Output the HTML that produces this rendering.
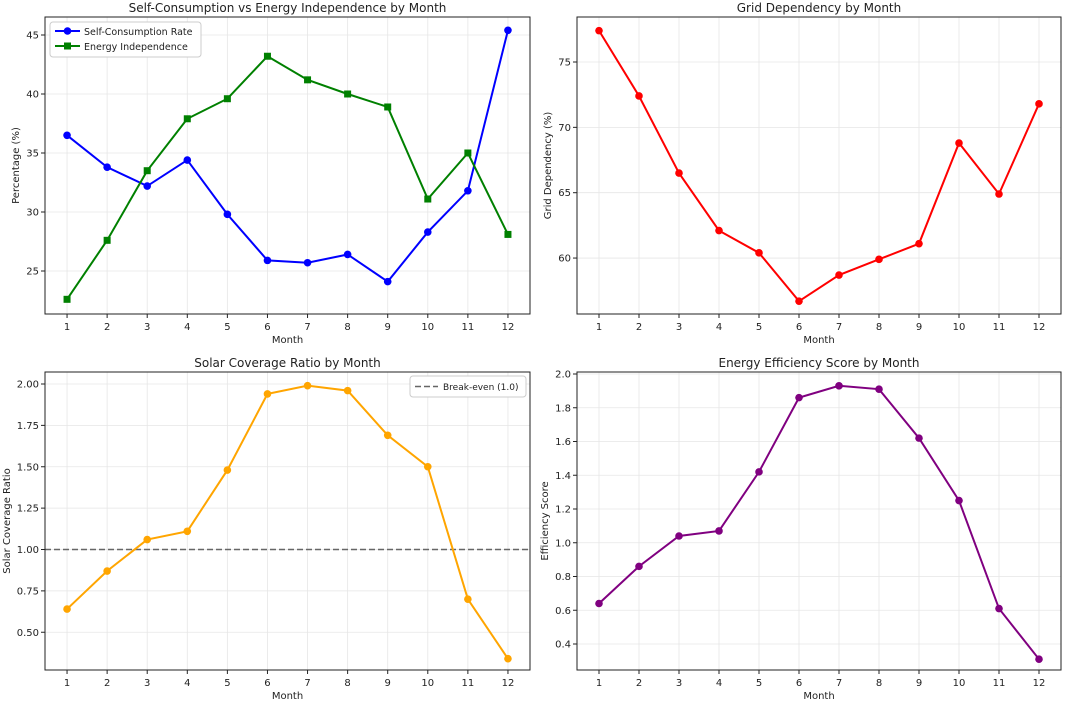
<!DOCTYPE html>
<html><head><meta charset="utf-8"><style>
body{margin:0;background:#fff;font-family:"Liberation Sans","DejaVu Sans",sans-serif}
svg text{font-family:"DejaVu Sans","Liberation Sans",sans-serif;fill:#222}
</style></head><body>
<svg id="fig" width="1065" height="701"></svg>
<script>
const months=[1,2,3,4,5,6,7,8,9,10,11,12];
const selfConsumption=[36.5,33.8,32.2,34.4,29.8,25.9,25.7,26.4,24.1,28.3,31.8,45.4];
const energyIndependence=[22.6,27.6,33.5,37.9,39.6,43.2,41.2,40.0,38.9,31.1,35.0,28.1];
const gridDependency=[77.4,72.4,66.5,62.1,60.4,56.7,58.7,59.9,61.1,68.8,64.9,71.8];
const solarCoverage=[0.64,0.87,1.06,1.11,1.48,1.94,1.99,1.96,1.69,1.50,0.70,0.34];
const efficiency=[0.64,0.86,1.04,1.07,1.42,1.86,1.93,1.91,1.62,1.25,0.61,0.31];
const ticks1=[25,30,35,40,45];
const ticks2=[60,65,70,75];
const ticks3=[0.5,0.75,1.0,1.25,1.5,1.75,2.0];
const ticks4=[0.4,0.6,0.8,1.0,1.2,1.4,1.6,1.8,2.0];
const NS="http://www.w3.org/2000/svg";
const svg=document.getElementById('fig');
function mk(tag,attrs,parent,text){const e=document.createElementNS(NS,tag);for(const k in attrs)e.setAttribute(k,attrs[k]);if(text!==undefined)e.textContent=text;(parent||svg).appendChild(e);return e;}
function panel(o){
  const g=mk('g',{});
  
  
  const L=o.l,R=o.r,T=o.t,B=o.b;
  const x=m=>L+(m-1+0.55)*((R-L)/12.1);
  const y=v=>o.y0+(v-o.v0)*o.k;
  months.forEach(m=>{mk('line',{x1:x(m),x2:x(m),y1:T,y2:B,stroke:'#e6e6e6','stroke-width':0.8},g);});
  o.ticks.forEach(v=>{mk('line',{x1:L,x2:R,y1:y(v),y2:y(v),stroke:'#e6e6e6','stroke-width':0.8},g);});
  if(o.hline!==undefined){const h=mk('line',{x1:L,x2:R,y1:y(o.hline),y2:y(o.hline),stroke:'#666','stroke-width':1.5,'stroke-dasharray':'6,3'},g);}
  o.series.forEach(s=>{
    const pts=s.data.map((v,i)=>x(months[i])+','+y(v)).join(' ');
    const pl=mk('polyline',{points:pts,fill:'none',stroke:s.color,'stroke-width':2},g);
    
    
    s.data.forEach((v,i)=>{
      let mkr;
      if(s.square)mkr=mk('rect',{x:x(months[i])-3.5,y:y(v)-3.5,width:7,height:7,fill:s.color},g);
      else mkr=mk('circle',{cx:x(months[i]),cy:y(v),r:3.8,fill:s.color},g);
      
      
    });
  });
  mk('rect',{x:L,y:T,width:R-L,height:B-T,fill:'none',stroke:'#222','stroke-width':1},g);
  months.forEach(m=>{mk('line',{x1:x(m),x2:x(m),y1:B,y2:B+4,stroke:'#222'},g);mk('text',{x:x(m),y:B+16,'text-anchor':'middle','font-size':10},g,m);});
  o.ticks.forEach(v=>{mk('line',{x1:L-4,x2:L,y1:y(v),y2:y(v),stroke:'#222'},g);mk('text',{x:L-6,y:y(v)+3.5,'text-anchor':'end','font-size':10},g,o.fmt(v));});
  const t=mk('text',{x:(L+R)/2,y:T-5,'text-anchor':'middle','font-size':12},g,o.title);
  
  const xl=mk('text',{x:(L+R)/2,y:B+29,'text-anchor':'middle','font-size':10},g,'Month');
  
  const yl=mk('text',{x:0,y:0,'text-anchor':'middle','font-size':10,transform:`translate(${o.ylx},${(T+B)/2}) rotate(-90)`},g,o.ylabel);
  
  return {g,L,R,T,B};
}
panel({name:'self-consumption-panel',l:45,r:530,t:17,b:314,y0:35,v0:45,k:-11.8,ticks:ticks1,fmt:v=>v,title:'Self-Consumption vs Energy Independence by Month',ylabel:'Percentage (%)',ylx:19,
 series:[{name:'self-consumption',data:selfConsumption,color:'#0000ff'},{name:'energy-independence',data:energyIndependence,color:'#008000',square:true}]});
panel({name:'grid-dependency-panel',l:577,r:1061,t:17,b:314,y0:62,v0:75,k:-13.07,ticks:ticks2,fmt:v=>v,title:'Grid Dependency by Month',ylabel:'Grid Dependency (%)',ylx:551,
 series:[{name:'grid-dependency',data:gridDependency,color:'#ff0000'}]});
panel({name:'solar-coverage-panel',l:45,r:530,t:372,b:670,y0:384,v0:2.0,k:-165.5,ticks:ticks3,fmt:v=>v.toFixed(2),title:'Solar Coverage Ratio by Month',ylabel:'Solar Coverage Ratio',ylx:10,hline:1.0,
 series:[{name:'solar-coverage',data:solarCoverage,color:'#ffa500'}]});
panel({name:'efficiency-panel',l:577,r:1061,t:372,b:670,y0:374,v0:2.0,k:-168.75,ticks:ticks4,fmt:v=>v.toFixed(1),title:'Energy Efficiency Score by Month',ylabel:'Efficiency Score',ylx:548,
 series:[{name:'efficiency',data:efficiency,color:'#800080'}]});
const lg=mk('g',{});


mk('rect',{x:50,y:22,width:151,height:35,fill:'#fff',stroke:'#ccc',rx:3},lg);
mk('line',{x1:55,x2:80,y1:31,y2:31,stroke:'#0000ff','stroke-width':2},lg);
mk('circle',{cx:67.5,cy:31,r:3.8,fill:'#0000ff'},lg);
mk('text',{x:84,y:35,'font-size':9.5},lg,'Self-Consumption Rate');
mk('line',{x1:55,x2:80,y1:46,y2:46,stroke:'#008000','stroke-width':2},lg);
mk('rect',{x:64,y:42.5,width:7,height:7,fill:'#008000'},lg);
mk('text',{x:84,y:50,'font-size':9.5},lg,'Energy Independence');
const lg2=mk('g',{});


mk('rect',{x:410,y:376,width:116,height:21,fill:'#fff',stroke:'#ccc',rx:3},lg2);
mk('line',{x1:415,x2:438,y1:386.5,y2:386.5,stroke:'#666','stroke-width':1.5,'stroke-dasharray':'6,3'},lg2);
mk('text',{x:443,y:390,'font-size':9},lg2,'Break-even (1.0)');
</script>
</body></html>
